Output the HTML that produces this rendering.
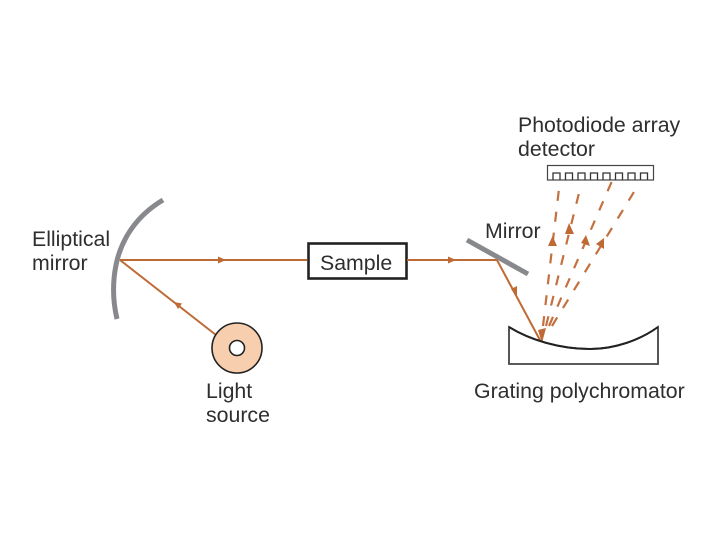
<!DOCTYPE html>
<html><head><meta charset="utf-8"><style>
html,body{margin:0;padding:0;background:#fff}
svg{display:block}
text{font-family:"Liberation Sans",sans-serif;font-size:21.3px;fill:#2e2e2e}
.b{stroke:#bf6a35;fill:none;stroke-width:2}
.d{stroke:#c4713f;fill:none;stroke-width:2.2;stroke-dasharray:10 11}
.a{fill:#bf6a35}
</style></head><body>
<svg width="720" height="540" viewBox="0 0 720 540">
<rect width="720" height="540" fill="#fff"/>
<path d="M163 200C136 216 121 240 116 265C112 285 113 302 117 319" fill="none" stroke="#87898c" stroke-width="5"/>
<path class="b" d="M120 260H307M120 260L216 335"/>
<path class="a" d="M226 260L218 256.500V263.500ZM174 302L182 303.500L178 309Z"/>
<circle cx="237" cy="348" r="25" fill="#f8cfae" stroke="#222" stroke-width="1.600"/>
<circle cx="237" cy="348" r="7.500" fill="#fff" stroke="#222" stroke-width="1.600"/>
<rect x="308.500" y="243.500" width="98" height="35" fill="#fff" stroke="#222" stroke-width="2.600"/>
<path class="b" d="M407 260H497L541 342"/>
<path class="a" d="M456 260L448 256.500V263.500ZM517 297L511 289L517 286ZM542 343L538 330L546 328Z"/>
<path d="M467 240L528 274" stroke="#87898c" stroke-width="5" fill="none"/>
<path d="M509 327C530 340 560 349 590 349C615 349 640 340 658 327V364H509Z" fill="#fff" stroke="#444" stroke-width="1.800"/>
<path d="M509 327C530 340 560 349 590 349C615 349 640 340 658 327" fill="none" stroke="#222" stroke-width="2"/>
<path class="d" d="M543 326L560 180"/>
<path class="d" d="M546 326L581 185"/>
<path class="d" d="M549 326L612 181"/>
<path class="d" d="M552 326L637 187"/>
<path class="a" d="M552.500 236L557 246H548ZM569 223L574 234H565ZM586 235L590 246L581 243ZM604 238L604 249L596 244Z"/>
<rect x="547.500" y="165.500" width="106" height="14.500" fill="#fff" stroke="#444" stroke-width="1.200"/>
<path d="M553 180V173H560V180M565.500 180V173H572.500V180M578 180V173H585V180M590.500 180V173H597.500V180M603 180V173H610V180M615.500 180V173H622.500V180M628 180V173H635V180M640.500 180V173H647.500V180" fill="none" stroke="#333" stroke-width="1.300"/>
<text x="518" y="132">Photodiode array</text>
<text x="518" y="156">detector</text>
<text x="485" y="238">Mirror</text>
<text x="320" y="270">Sample</text>
<text x="32" y="246">Elliptical</text>
<text x="32" y="270">mirror</text>
<text x="206" y="398">Light</text>
<text x="206" y="422">source</text>
<text x="474" y="398">Grating polychromator</text>
</svg>
</body></html>
